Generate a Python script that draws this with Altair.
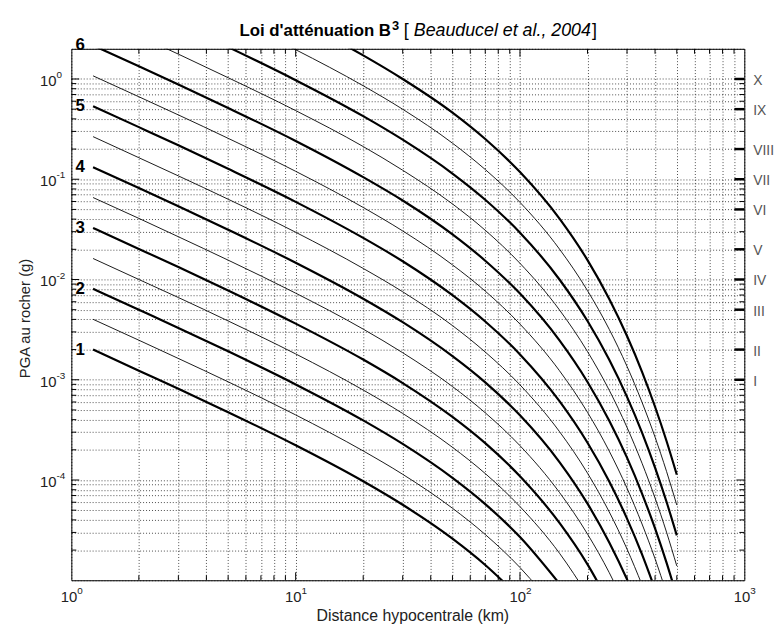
import altair as alt
import pandas as pd

# ---------------- data ----------------
DIST = [1.25, 2, 3, 5, 10, 20, 30, 50, 70, 100, 150, 200, 250, 300, 350, 400, 450, 500]

PGA_M1   = [2.00e-3, 1.23e-3, 8.12e-4, 4.75e-4, 2.22e-4, 9.71e-5, 5.66e-5, 2.60e-5, 1.42e-5, 6.67e-6]
PGA_M1_5 = [4.01e-3, 2.48e-3, 1.63e-3, 9.54e-4, 4.46e-4, 1.95e-4, 1.14e-4, 5.23e-5, 2.86e-5, 1.34e-5, 4.59e-6]
PGA_M2   = [8.07e-3, 4.99e-3, 3.29e-3, 1.92e-3, 8.98e-4, 3.93e-4, 2.29e-4, 1.05e-4, 5.75e-5, 2.70e-5, 9.23e-6]
PGA_M2_5 = [1.62e-2, 1.00e-2, 6.61e-3, 3.86e-3, 1.81e-3, 7.90e-4, 4.61e-4, 2.12e-4, 1.16e-4, 5.43e-5, 1.86e-5, 7.14e-6]
PGA_M3   = [3.27e-2, 2.02e-2, 1.33e-2, 7.77e-3, 3.63e-3, 1.59e-3, 9.27e-4, 4.26e-4, 2.33e-4, 1.09e-4, 3.73e-5, 1.44e-5, 5.89e-6]
PGA_M3_5 = [6.57e-2, 4.07e-2, 2.67e-2, 1.56e-2, 7.31e-3, 3.20e-3, 1.86e-3, 8.56e-4, 4.68e-4, 2.20e-4, 7.51e-5, 2.89e-5, 1.19e-5, 5.07e-6]
PGA_M4   = [1.32e-1, 8.18e-2, 5.38e-2, 3.14e-2, 1.47e-2, 6.43e-3, 3.75e-3, 1.72e-3, 9.42e-4, 4.42e-4, 1.51e-4, 5.81e-5, 2.38e-5, 1.02e-5, 4.48e-6]
PGA_M4_5 = [2.66e-1, 1.64e-1, 1.08e-1, 6.32e-2, 2.96e-2, 1.29e-2, 7.54e-3, 3.47e-3, 1.89e-3, 8.89e-4, 3.04e-4, 1.17e-4, 4.80e-5, 2.05e-5, 9.01e-6]
PGA_M5   = [5.35e-1, 3.31e-1, 2.18e-1, 1.27e-1, 5.95e-2, 2.60e-2, 1.52e-2, 6.97e-3, 3.81e-3, 1.79e-3, 6.11e-4, 2.35e-4, 9.65e-5, 4.12e-5, 1.81e-5, 8.13e-6]
PGA_M5_5 = [1.075, 6.65e-1, 4.38e-1, 2.56e-1, 1.20e-1, 5.23e-2, 3.05e-2, 1.40e-2, 7.66e-3, 3.59e-3, 1.23e-3, 4.73e-4, 1.94e-4, 8.29e-5, 3.64e-5, 1.64e-5, 7.46e-6]
PGA_M6   = [2.16, 1.34, 8.80e-1, 5.14e-1, 2.41e-1, 1.05e-1, 6.14e-2, 2.82e-2, 1.54e-2, 7.23e-3, 2.47e-3, 9.51e-4, 3.90e-4, 1.67e-4, 7.33e-5, 3.29e-5, 1.50e-5, 6.92e-6]
PGA_M6_5 = [4.35, 2.69, 1.77, 1.03, 4.84e-1, 2.12e-1, 1.23e-1, 5.67e-2, 3.10e-2, 1.45e-2, 4.97e-3, 1.91e-3, 7.85e-4, 3.35e-4, 1.47e-4, 6.61e-5, 3.02e-5, 1.39e-5]
PGA_M7   = [8.75, 5.42, 3.56, 2.08, 9.73e-1, 4.26e-1, 2.48e-1, 1.14e-1, 6.24e-2, 2.93e-2, 1.00e-2, 3.85e-3, 1.58e-3, 6.75e-4, 2.97e-4, 1.33e-4, 6.07e-5, 2.80e-5]
PGA_M7_5 = [17.6, 10.9, 7.16, 4.18, 1.96, 8.56e-1, 4.99e-1, 2.29e-1, 1.25e-1, 5.88e-2, 2.01e-2, 7.74e-3, 3.18e-3, 1.36e-3, 5.96e-4, 2.68e-4, 1.22e-4, 5.63e-5]
PGA_M8   = [35.4, 21.9, 14.4, 8.42, 3.94, 1.72, 1.00, 4.62e-1, 2.52e-1, 1.18e-1, 4.05e-2, 1.56e-2, 6.39e-3, 2.73e-3, 1.20e-3, 5.38e-4, 2.45e-4, 1.13e-4]

MAG_THICK = [1, 2, 3, 4, 5, 6, 7, 8]
MAG_THIN = [1.5, 2.5, 3.5, 4.5, 5.5, 6.5, 7.5]
CURVES_THICK = [PGA_M1, PGA_M2, PGA_M3, PGA_M4, PGA_M5, PGA_M6, PGA_M7, PGA_M8]
CURVES_THIN = [PGA_M1_5, PGA_M2_5, PGA_M3_5, PGA_M4_5, PGA_M5_5, PGA_M6_5, PGA_M7_5]

MAG_LABELS = ["1", "2", "3", "4", "5", "6"]
MAG_LABEL_PGA = [2.00e-3, 8.07e-3, 3.27e-2, 1.32e-1, 5.35e-1, 2.16]

ROMAN = ["I", "II", "III", "IV", "V", "VI", "VII", "VIII", "IX", "X"]
ROMAN_PGA = [0.001, 0.002, 0.005, 0.01, 0.02, 0.05, 0.1, 0.2, 0.5, 1.0]

X_LABEL_VALUES = [1, 10, 100, 1000]
X_LABEL_EXP = ["0", "1", "2", "3"]
Y_LABEL_VALUES = [1e-4, 1e-3, 1e-2, 1e-1, 1]
Y_LABEL_EXP = ["-4", "-3", "-2", "-1", "0"]

X_GRID = [1, 2, 3, 4, 5, 6, 7, 8, 9, 10, 20, 30, 40, 50, 60, 70, 80, 90,
          100, 200, 300, 400, 500, 600, 700, 800, 900, 1000]
Y_GRID = [1e-5, 2e-5, 3e-5, 4e-5, 5e-5, 6e-5, 7e-5, 8e-5, 9e-5,
          1e-4, 2e-4, 3e-4, 4e-4, 5e-4, 6e-4, 7e-4, 8e-4, 9e-4,
          1e-3, 2e-3, 3e-3, 4e-3, 5e-3, 6e-3, 7e-3, 8e-3, 9e-3,
          1e-2, 2e-2, 3e-2, 4e-2, 5e-2, 6e-2, 7e-2, 8e-2, 9e-2,
          0.1, 0.2, 0.3, 0.4, 0.5, 0.6, 0.7, 0.8, 0.9, 1, 2]
XT_MAJOR = [10, 100]
XT_MINOR = [2, 3, 4, 5, 6, 7, 8, 9, 20, 30, 40, 50, 60, 70, 80, 90,
            200, 300, 400, 500, 600, 700, 800, 900]
YT_MAJOR = [1e-4, 1e-3, 1e-2, 1e-1, 1]
YT_MINOR = [v for v in Y_GRID if v not in YT_MAJOR and v not in (1e-5, 2)]

TITLE_MAIN = "Loi d'atténuation B"
TITLE_SUP = "3"
TITLE_REF = "Beauducel et al., 2004"
X_TITLE = "Distance hypocentrale (km)"
Y_TITLE = "PGA au rocher (g)"

FONT = "Liberation Sans"
W, H = 680, 537

# ---------------- tables ----------------
def curves_df(mags, lists):
    rows = []
    for m, vals in zip(mags, lists):
        for d, p in zip(DIST, vals):
            rows.append({"D": d, "PGA": p, "M": m})
    return pd.DataFrame(rows)

df_thick = curves_df(MAG_THICK, CURVES_THICK)
df_thin = curves_df(MAG_THIN, CURVES_THIN)

xs = alt.Scale(type="log", domain=[1, 1000], nice=False)
ys = alt.Scale(type="log", domain=[1e-5, 2], nice=False)

grid_common = dict(grid=True, labels=False, ticks=False, domain=False, title=None,
                   gridDash=[1, 2], gridColor="#000000", gridOpacity=0.7, gridWidth=1)
AX_X = alt.Axis(values=X_GRID, **grid_common)
AX_Y = alt.Axis(values=Y_GRID, **grid_common)


def X(field):
    return alt.X(field, scale=xs, axis=AX_X)


def Y(field):
    return alt.Y(field, scale=ys, axis=AX_Y)


thin = alt.Chart(df_thin).mark_line(clip=True, color="#000000", strokeWidth=0.9,
                                    interpolate="monotone").encode(
    x=X("D:Q"), y=Y("PGA:Q"), detail="M:N", order="D:Q")

thick = alt.Chart(df_thick).mark_line(clip=True, color="#000000", strokeWidth=2.2,
                                      interpolate="monotone").encode(
    x=X("D:Q"), y=Y("PGA:Q"), detail="M:N", order="D:Q")


def xticks(vals, length):
    d = pd.DataFrame({"v": vals})
    b = alt.Chart(d).mark_rule(color="#000000", strokeWidth=1).encode(
        x=X("v:Q"), y=alt.value(H), y2=alt.value(H - length))
    t = alt.Chart(d).mark_rule(color="#000000", strokeWidth=1).encode(
        x=X("v:Q"), y=alt.value(0), y2=alt.value(length))
    return [b, t]


def yticks(vals, length):
    d = pd.DataFrame({"v": vals})
    l = alt.Chart(d).mark_rule(color="#000000", strokeWidth=1).encode(
        y=Y("v:Q"), x=alt.value(0), x2=alt.value(length))
    r = alt.Chart(d).mark_rule(color="#000000", strokeWidth=1).encode(
        y=Y("v:Q"), x=alt.value(W), x2=alt.value(W - length))
    return [l, r]


tick_layers = xticks(XT_MAJOR, 8) + xticks(XT_MINOR, 5) + yticks(YT_MAJOR, 8) + yticks(YT_MINOR, 5)

# roman intensity ticks and labels
df_roman = pd.DataFrame({"r": ROMAN, "p": ROMAN_PGA})
roman_ticks = alt.Chart(df_roman).mark_rule(color="#000000", strokeWidth=2.5).encode(
    y=Y("p:Q"), x=alt.value(W - 10), x2=alt.value(W))
roman_text = alt.Chart(df_roman).mark_text(align="left", baseline="middle", dy=2,
                                           fontSize=14, font=FONT, color="#555555").encode(
    y=Y("p:Q"), x=alt.value(W + 9), text="r:N")

# magnitude labels
df_mag = pd.DataFrame({"t": MAG_LABELS, "p": MAG_LABEL_PGA})
mag_text = alt.Chart(df_mag).mark_text(align="center", baseline="middle", fontSize=17,
                                       fontWeight="bold", font=FONT, color="#000000").encode(
    y=Y("p:Q"), x=alt.value(9), text="t:N")

# axis tick labels (10 with superscript exponent)
df_xl = pd.DataFrame({"v": X_LABEL_VALUES, "e": X_LABEL_EXP, "b": ["10"] * len(X_LABEL_VALUES)})
xl_base = alt.Chart(df_xl).mark_text(align="right", baseline="middle", dx=6, fontSize=15,
                                     font=FONT, color="#222222").encode(
    x=X("v:Q"), y=alt.value(H + 17), text="b:N")
xl_exp = alt.Chart(df_xl).mark_text(align="left", baseline="middle", dx=6, fontSize=10,
                                    font=FONT, color="#222222").encode(
    x=X("v:Q"), y=alt.value(H + 11), text="e:N")

df_yl = pd.DataFrame({"v": Y_LABEL_VALUES, "e": Y_LABEL_EXP, "b": ["10"] * len(Y_LABEL_VALUES)})
yl_base = alt.Chart(df_yl).mark_text(align="right", baseline="middle", dy=2, fontSize=15,
                                     font=FONT, color="#222222").encode(
    y=Y("v:Q"), x=alt.value(-15), text="b:N")
yl_exp = alt.Chart(df_yl).mark_text(align="left", baseline="middle", dy=-4, fontSize=10,
                                    font=FONT, color="#222222").encode(
    y=Y("v:Q"), x=alt.value(-15), text="e:N")


# titles
def label(text, x, y, color="#000000", **kw):
    return alt.Chart(pd.DataFrame({"t": [text]})).mark_text(font=FONT, color=color, **kw).encode(
        x=alt.value(x), y=alt.value(y), text="t:N")


title_layers = [
    label(TITLE_MAIN, 323, -13, align="right", baseline="alphabetic", fontSize=17, fontWeight="bold"),
    label(TITLE_SUP, 324, -19, align="left", baseline="alphabetic", fontSize=13, fontWeight="bold"),
    label("[", 336, -13, align="left", baseline="alphabetic", fontSize=18),
    label(TITLE_REF, 346, -13, align="left", baseline="alphabetic", fontSize=18, fontStyle="italic"),
    label("]", 526, -13, align="left", baseline="alphabetic", fontSize=18),
    label(X_TITLE, 345, H + 41, color="#222222", align="center", baseline="alphabetic", fontSize=16),
    label(Y_TITLE, -47, H / 2 + 4, color="#222222", align="center", baseline="middle", fontSize=15,
          angle=270),
]

chart = alt.layer(
    thin, thick, *tick_layers, roman_ticks, roman_text, mag_text,
    xl_base, xl_exp, yl_base, yl_exp, *title_layers
).properties(
    width=W, height=H,
    padding={"left": 64, "top": 38, "right": 30, "bottom": 45},
    autosize=alt.AutoSizeParams(type="none"),
    background="white",
).configure_view(stroke="#000000", strokeWidth=1)

chart.save("out.html", embed_options={"renderer": "svg", "actions": False})
